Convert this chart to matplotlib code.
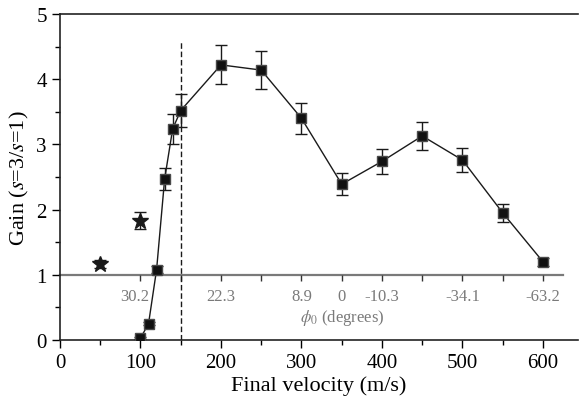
import matplotlib
matplotlib.use("Agg")
import matplotlib.pyplot as plt
from matplotlib.ticker import MultipleLocator

plt.rcParams['font.family'] = ['Liberation Serif', 'DejaVu Serif']
plt.rcParams['mathtext.fontset'] = 'stix'

# measured gain vs final velocity
velocity = [100, 110, 120, 130, 140, 150, 200, 250, 300, 350, 400, 450, 500, 550, 600]
gain = [0.03, 0.25, 1.08, 2.47, 3.24, 3.52, 4.22, 4.14, 3.40, 2.39, 2.74, 3.13, 2.76, 1.95, 1.20]
gain_err = [0.02, 0.02, 0.05, 0.17, 0.23, 0.25, 0.30, 0.29, 0.24, 0.17, 0.19, 0.22, 0.19, 0.14, 0.06]

# star points
star_velocity = [50, 100]
star_gain = [1.17, 1.83]
star_err = [0.06, 0.13]

# phi_0 axis drawn at gain = 1
phi_ticks = [100, 150, 200, 250, 300, 350, 400, 450, 500, 550, 600]
phi_labels = ['30.2', '', '22.3', '', '8.9', '0', '-10.3', '', '-34.1', '', '-63.2']

grey = '#7a7a7a'

fig = plt.figure(figsize=(5.79, 4.06), dpi=100)
ax = fig.add_axes([0.1036, 0.160, 0.894, 0.803])

ax.errorbar(velocity, gain, yerr=gain_err, color='#1a1a1a', lw=1.0,
            marker='s', ms=7.5, mfc='#111111', mec='#4a4a4a', mew=1.0,
            elinewidth=1.0, capsize=4, capthick=1.0, zorder=4)
ax.errorbar(star_velocity, star_gain, yerr=star_err, fmt='*', color='#1a1a1a',
            ms=12, mfc='#1a1a1a', mec='#1a1a1a', elinewidth=1.0,
            capsize=4, capthick=1.0, zorder=4)

# dashed line at 150 m/s
ax.vlines(150, 0, 4.57, colors='#1a1a1a', linestyles=(0, (4, 2)), lw=1.0, zorder=2)

# secondary phi_0 scale
ax.plot([0, 625], [1, 1], color=grey, lw=1.6, zorder=1, clip_on=False)
ax.vlines(phi_ticks, 0.91, 1, colors='#333333', lw=1.0, zorder=1)
for xv, lab in zip(phi_ticks, phi_labels):
    dx = -7 if xv == 100 else 0
    ax.text(xv + dx, 0.67, lab, color=grey, fontsize=12, ha='center', va='center')
ax.text(350, 0.35, r'$\phi_0$ (degrees)', color=grey, fontsize=12,
        ha='center', va='center')

ax.set_xlim(0, 643)
ax.set_ylim(0, 5)
ax.xaxis.set_major_locator(MultipleLocator(100))
ax.xaxis.set_minor_locator(MultipleLocator(50))
ax.yaxis.set_major_locator(MultipleLocator(1))
ax.yaxis.set_minor_locator(MultipleLocator(0.5))
ax.tick_params(which='major', direction='out', length=6, width=1.0, labelsize=15)
ax.tick_params(which='minor', direction='out', length=3.5, width=1.0)
ax.spines['right'].set_visible(False)
for s in ['left', 'bottom', 'top']:
    ax.spines[s].set_linewidth(1.2)
    ax.spines[s].set_color('#222222')

ax.set_xlabel('Final velocity (m/s)', fontsize=16, labelpad=2)
ax.set_ylabel(r'Gain ($s$=3/$s$=1)', fontsize=16, labelpad=4)

fig.savefig('out.png', dpi=100)
